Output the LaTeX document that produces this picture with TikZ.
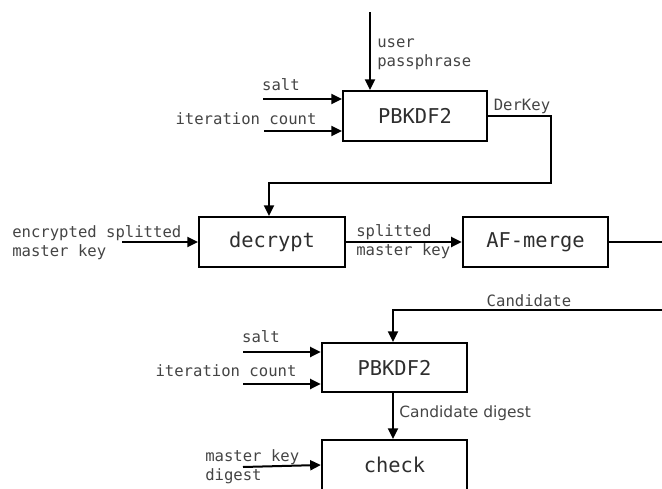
\documentclass[tikz,border=0pt]{standalone}
\usepackage{fontspec}
\setmonofont{DejaVu Sans Mono}
\setsansfont{DejaVu Sans}
\usetikzlibrary{arrows.meta}
\definecolor{txt}{HTML}{444444}
\definecolor{boxtxt}{HTML}{2E2E2E}
\tikzset{
  box/.style={draw=black, line width=1.5pt, minimum width=108pt, minimum height=37.5pt, inner sep=0pt,
    font=\ttfamily\fontsize{15.3}{18}\selectfont, text=boxtxt},
  lbl/.style={font=\ttfamily\fontsize{11.7}{14.2}\selectfont, text=txt, inner sep=0pt, align=left},
  slbl/.style={font=\sffamily\fontsize{11.6}{14}\selectfont, text=txt, inner sep=0pt, align=left},
  wire/.style={draw=black, line width=1.5pt},
  arr/.style={wire, -{Triangle[length=8pt,width=7.5pt]}},
}
\begin{document}
\begin{tikzpicture}[x=0.75pt,y=-0.75pt]
\useasboundingbox (0,0) rectangle (662,489);
% boxes
\node[box] (pb1) at (415,116) {PBKDF2};
\node[box, minimum width=109.5pt] (dec) at (272,242) {decrypt};
\node[box, minimum width=109pt] (af) at (535.5,242) {AF-merge};
\node[box, minimum width=109pt, minimum height=36.75pt] (pb2) at (394.5,367.5) {PBKDF2};
\node[box, minimum width=109pt] (chk) at (394.5,465) {check};
% free ends
\coordinate (pp) at (370,12);
\coordinate (s1) at (263,99);
\coordinate (i1) at (264,131);
\coordinate (dk1) at (551,116);
\coordinate (dk2) at (551,183);
\coordinate (dk3) at (269,183);
\coordinate (esk) at (122,242);
\coordinate (afout) at (662,242);
\coordinate (cin) at (662,310);
\coordinate (cc) at (393,310);
\coordinate (s2) at (243,352);
\coordinate (i2) at (243,384);
\coordinate (mk) at (243,467);
% connectors
\draw[arr] (pp) -- (pp |- pb1.north);
\draw[arr] (s1) -- (s1 -| pb1.west);
\draw[arr] (i1) -- (i1 -| pb1.west);
\draw[arr] (pb1.east) -- (dk1) -- (dk2) -- (dk3) -- (dk3 |- dec.north);
\draw[arr] (esk) -- (dec.west);
\draw[arr] (dec.east) -- (af.west);
\draw[wire] (af.east) -- (afout);
\draw[arr] (cin) -- (cc) -- (cc |- pb2.north);
\draw[arr] (s2) -- (s2 -| pb2.west);
\draw[arr] (i2) -- (i2 -| pb2.west);
\draw[arr] (cc |- pb2.south) -- (cc |- chk.north);
\draw[arr] (mk) -- (chk.west);
% labels
\node[lbl, anchor=west] (lpp) at (377,54.5) {user\\passphrase};
\node[lbl] (ls1) at (281,85) {salt};
\node[lbl] (li1) at (246,119) {iteration count};
\node[lbl] (ldk) at (522,106) {DerKey};
\node[lbl, anchor=west] (lesk) at (12,243) {encrypted splitted\\master key};
\node[lbl, anchor=west] (lsmk) at (356,242) {splitted\\master key};
\node[lbl] (lc) at (529,301) {Candidate};
\node[lbl] (ls2) at (261,337) {salt};
\node[lbl] (li2) at (226,371) {iteration count};
\node[slbl, anchor=west] (lcd) at (399,413) {Candidate digest};
\node[lbl, anchor=west] (lmk) at (205,467) {master key\\digest};
\end{tikzpicture}
\end{document}
